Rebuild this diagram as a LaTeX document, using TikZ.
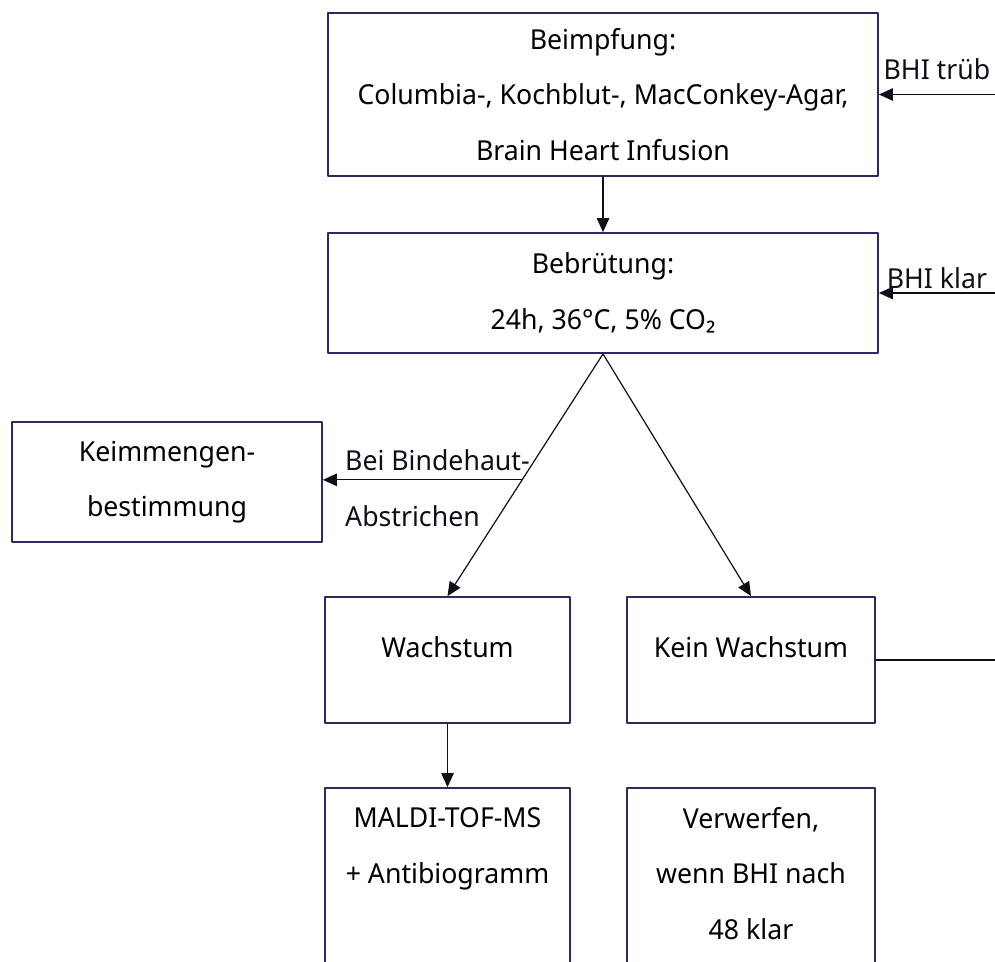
\documentclass[tikz,border=0pt]{standalone}
\usepackage{fontspec}
\setmainfont[FakeStretch=0.97]{Noto Sans}
\usetikzlibrary{arrows.meta}
\usetikzlibrary{calc}
\begin{document}
\begin{tikzpicture}[line cap=round,line join=round,x=1pt,y=-1pt,font=\fontsize{27.5}{55.5}\selectfont,
box/.style={draw=qqqqtt,line width=1.8pt,align=center,inner sep=0pt},
conn/.style={line width=1.2pt,color=uuuuuu,-{Triangle[length=14pt,width=12.5pt]}},
lbl/.style={inner sep=2pt,text=uuuuuu}]
\definecolor{qqqqtt}{rgb}{0.17,0.17,0.38}
\definecolor{uuuuuu}{rgb}{0.06,0.06,0.1}
\useasboundingbox (0,0) rectangle (995,961);
\clip (0,0) rectangle (995,961);
\node[box,minimum width=550pt,minimum height=163pt] (beimpf) at (603,94.5) {Beimpfung:\\Columbia-, Kochblut-, MacConkey-Agar,\\Brain Heart Infusion};
\node[box,minimum width=550pt,minimum height=120pt] (bebrut) at (603,293) {Bebrütung:\\24h, 36°C, 5\% CO₂};
\node[box,minimum width=310pt,minimum height=120pt] (keim) at (167,482) {Keimmengen-\\bestimmung};
\node[box,minimum width=245pt,minimum height=126pt,text height=18pt,text depth=24pt] (wachs) at (447.5,660) {Wachstum};
\node[box,minimum width=248pt,minimum height=126pt,text height=18pt,text depth=24pt] (kein) at (751,660) {Kein Wachstum};
\node[box,minimum width=245pt,minimum height=226pt] (maldi) at (447.5,901) {MALDI-TOF-MS\\+ Antibiogramm\\\mbox{}\\\mbox{}};
\node[box,minimum width=248pt,minimum height=226pt] (verw) at (751,901) {Verwerfen,\\wenn BHI nach\\48 klar\\\mbox{}};
\coordinate (truebIn) at (995,94.5);
\coordinate (klarIn) at (995,293);
\coordinate (keinOut) at (995,660);
\coordinate (split) at ($(bebrut.south)!0.52!(wachs.north)$);
\draw[conn] (truebIn) -- node[lbl,above=12pt] (truebL) {BHI trüb} (beimpf.east);
\draw[conn] (klarIn) -- node[lbl,above=2pt] (klarL) {BHI klar} (bebrut.east);
\draw[conn] (beimpf.south) -- (bebrut.north);
\draw[conn] (bebrut.south) -- (wachs.north);
\draw[conn] (bebrut.south) -- (kein.north);
\draw[conn] (split) -- (split -| keim.east);
\node[lbl,align=left,anchor=west] (beiL) at (343,488) {Bei Bindehaut-\\Abstrichen};
\draw[line width=1.2pt,color=uuuuuu] (kein.east) -- (keinOut);
\draw[conn] (wachs.south) -- (maldi.north);
\end{tikzpicture}
\end{document}
